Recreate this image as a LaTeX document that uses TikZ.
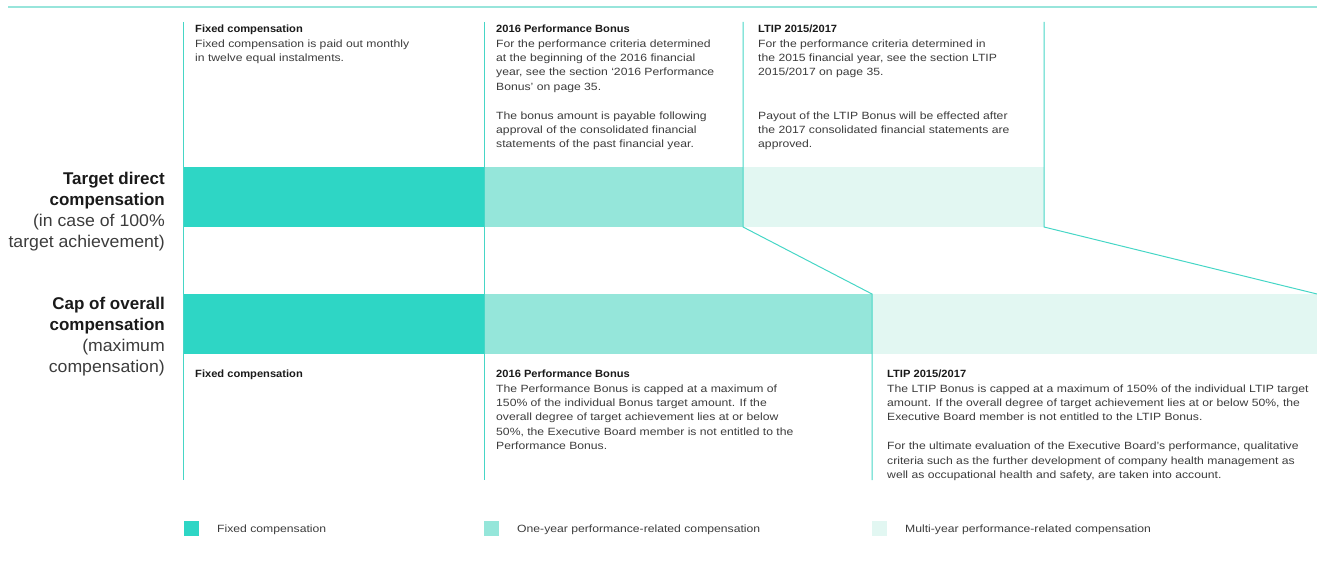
\documentclass[tikz,border=0pt]{standalone}
\usepackage{fontspec}
\setmainfont{Liberation Sans}
\newfontfamily\bodyfont[UprightFeatures={FakeStretch=1.16},BoldFeatures={FakeStretch=1.06}]{Liberation Sans}
\newfontfamily\sidefont[UprightFeatures={FakeStretch=1.04}]{Liberation Sans}
\definecolor{fixC}{HTML}{2ED6C5}
\definecolor{oneC}{HTML}{95E6DA}
\definecolor{multiC}{HTML}{E2F7F2}
\definecolor{lineC}{HTML}{46D6C6}
\definecolor{topC}{HTML}{98E5DB}
\definecolor{bodyC}{HTML}{3C3C3C}
\definecolor{headC}{HTML}{1A1A1A}
\begin{document}
\begin{tikzpicture}[x=1pt,y=-1pt,
  bar/.style={anchor=north west,inner sep=0pt,outer sep=0pt,draw=none,minimum height=60pt},
  rule/.style={draw=lineC,line width=1pt},
  body/.style={anchor=north west,inner sep=0pt,align=left,text=bodyC,font=\bodyfont\fontsize{10.5}{14.4}\selectfont},
  side/.style={anchor=north east,inner sep=0pt,align=right,text=bodyC,font=\sidefont\fontsize{17}{21}\selectfont},
  key/.style={anchor=north west,inner sep=0pt,minimum size=15pt},
  keytext/.style={anchor=base west,inner sep=0pt,text=bodyC,font=\bodyfont\fontsize{10.5}{13}\selectfont},
]
\useasboundingbox (0,0) rectangle (1317,577);
\newcommand{\hd}[1]{\textcolor{headC}{\bfseries #1}}
% top rule
\coordinate (topL) at (8,7);
\coordinate (topR) at (1317,7);
\draw[draw=topC,line width=2pt] (topL) -- (topR);
% bars
\node[bar,fill=fixC,minimum width=301pt] (tF) at (183,167) {};
\node[bar,fill=oneC,minimum width=259pt] (tO) at (484,167) {};
\node[bar,fill=multiC,minimum width=301pt] (tM) at (743,167) {};
\node[bar,fill=fixC,minimum width=301pt] (cF) at (183,294) {};
\node[bar,fill=oneC,minimum width=388pt] (cO) at (484,294) {};
\node[bar,fill=multiC,minimum width=445pt] (cM) at (872,294) {};
% rules
\coordinate (v1t) at (183,22); \coordinate (v1b) at (183,480);
\coordinate (v2t) at (484,22); \coordinate (v2b) at (484,480);
\coordinate (v3t) at (743,22);
\coordinate (v4t) at (1044,22);
\coordinate (v5b) at (872,480);
\draw[rule] (v1t) -- (v1b);
\draw[rule] (v2t) -- (v2b);
\draw[rule] (v3t) -- (tO.south east) -- (cO.north east) -- (v5b);
\draw[rule] (v4t) -- (tM.south east) -- (cM.north east);
% side labels
\node[side] (lblT) at (165,169.6) {\strut\hd{Target direct}\\\hd{compensation}\\(in case of 100\%\\target achievement)};
\node[side] (lblC) at (165,295.0) {\strut\hd{Cap of overall}\\\hd{compensation}\\(maximum\\compensation)};
% top texts
\node[body] (t1) at (195,22.4) {\strut\hd{Fixed compensation}\\
Fixed compensation is paid out monthly\\
in twelve equal instalments.};
\node[body] (t2) at (496,22.4) {\strut\hd{2016 Performance Bonus}\\
For the performance criteria determined\\
at the beginning of the 2016 financial\\
year, see the section ‘2016 Performance\\
Bonus’ on page 35.\\[14.4pt]
The bonus amount is payable following\\
approval of the consolidated financial\\
statements of the past financial year.};
\node[body] (t3) at (758,22.4) {\strut\hd{LTIP 2015/2017}\\
For the performance criteria determined in\\
the 2015 financial year, see the section LTIP\\
2015/2017 on page 35.\\[28.8pt]
Payout of the LTIP Bonus will be effected after\\
the 2017 consolidated financial statements are\\
approved.};
% bottom texts
\node[body] (b1) at (195,367.4) {\strut\hd{Fixed compensation}};
\node[body] (b2) at (496,367.4) {\strut\hd{2016 Performance Bonus}\\
The Performance Bonus is capped at a maximum of\\
150\% of the individual Bonus target amount. If the\\
overall degree of target achievement lies at or below\\
50\%, the Executive Board member is not entitled to the\\
Performance Bonus.};
\node[body] (b3) at (887,367.4) {\strut\hd{LTIP 2015/2017}\\
The LTIP Bonus is capped at a maximum of 150\% of the individual LTIP target\\
amount. If the overall degree of target achievement lies at or below 50\%, the\\
Executive Board member is not entitled to the LTIP Bonus.\\[14.4pt]
For the ultimate evaluation of the Executive Board’s performance, qualitative\\
criteria such as the further development of company health management as\\
well as occupational health and safety, are taken into account.};
% legend
\node[key,fill=fixC] (k1) at (184,521) {};
\node[key,fill=oneC] (k2) at (484,521) {};
\node[key,fill=multiC] (k3) at (872,521) {};
\node[keytext] (k1t) at (217,532.5) {Fixed compensation};
\node[keytext] (k2t) at (517,532.5) {One-year performance-related compensation};
\node[keytext] (k3t) at (905,532.5) {Multi-year performance-related compensation};
\end{tikzpicture}
\end{document}
